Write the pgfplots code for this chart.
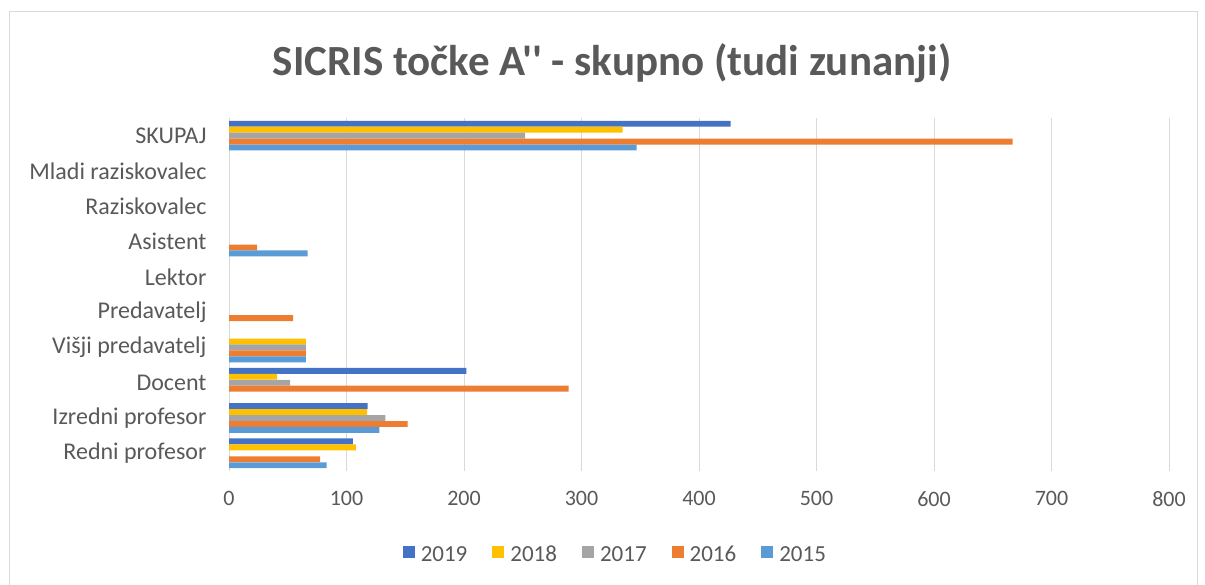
\documentclass[border=0pt]{standalone}
\usepackage{pgfplots}
\pgfplotsset{compat=1.18}
\usepackage{fontspec}
\setmainfont{Carlito}[Ligatures=TeXOff]
\definecolor{c19}{HTML}{4472C4}
\definecolor{c18}{HTML}{FFC000}
\definecolor{c17}{HTML}{A5A5A5}
\definecolor{c16}{HTML}{ED7D31}
\definecolor{c15}{HTML}{5B9BD5}
\definecolor{txt}{HTML}{595959}
\definecolor{grd}{HTML}{D9D9D9}
\begin{document}
\begin{tikzpicture}
\useasboundingbox (0pt,0pt) rectangle (1205pt,585pt);
\draw[grd, line width=1pt] (9pt,0pt) -- (9pt,573pt) -- (1197pt,573pt) -- (1197pt,0pt);
\node[font=\bfseries\fontsize{43}{50}\selectfont, text=txt] at (612pt,522pt) {SICRIS točke A'' - skupno (tudi zunanji)};
\begin{axis}[
  at={(229pt,114pt)}, anchor=south west,
  scale only axis, width=940pt, height=353pt,
  xbar, bar width=5.9pt,
  xmin=0, xmax=800, ymin=-0.5, ymax=9.5,
  xtick={0,100,...,800},
  ytick={0,...,9},
  yticklabels={Redni profesor, Izredni profesor, Docent, Višji predavatelj, Predavatelj, Lektor, Asistent, Raziskovalec, Mladi raziskovalec, SKUPAJ},
  /pgf/number format/assume math mode=true,
  xticklabel style={font=\fontsize{22}{26}\selectfont, text=txt, yshift=-17pt},
  yticklabel style={font=\fontsize{24}{28}\selectfont, text=txt, xshift=-19pt},
  major tick length=0pt,
  xmajorgrids, grid style={grd, line width=1pt},
  axis x line*=bottom, axis y line*=left,
  x axis line style={draw=none},
  y axis line style={draw=grd, line width=1pt},
  legend style={at={(0.411,-0.235)}, anchor=center, draw=none, legend columns=-1,
    font=\fontsize{23}{27}\selectfont, text=txt,
    nodes={text height=15pt, text depth=0pt},
    /tikz/every even column/.append style={column sep=23pt}},
  legend image code/.code={\fill[#1,draw=none] (0pt,-4pt) rectangle (12pt,8pt);},
]
\addplot[fill=c19, draw=none, bar shift=11.9pt] coordinates {(105.5,0) (118,1) (202,2) (427,9)};
\addplot[fill=c18, draw=none, bar shift=5.95pt] coordinates {(108,0) (117.5,1) (41,2) (65.5,3) (335,9)};
\addplot[fill=c17, draw=none, bar shift=0pt] coordinates {(133,1) (52,2) (65.5,3) (252,9)};
\addplot[fill=c16, draw=none, bar shift=-5.95pt] coordinates {(77.5,0) (152,1) (289,2) (65.5,3) (54.5,4) (24,6) (667,9)};
\addplot[fill=c15, draw=none, bar shift=-11.9pt] coordinates {(83,0) (128,1) (65.5,3) (67,6) (347,9)};
\legend{\hspace{4pt}2019,\hspace{4pt}2018,\hspace{4pt}2017,\hspace{4pt}2016,\hspace{4pt}2015}
\end{axis}
\end{tikzpicture}
\end{document}
